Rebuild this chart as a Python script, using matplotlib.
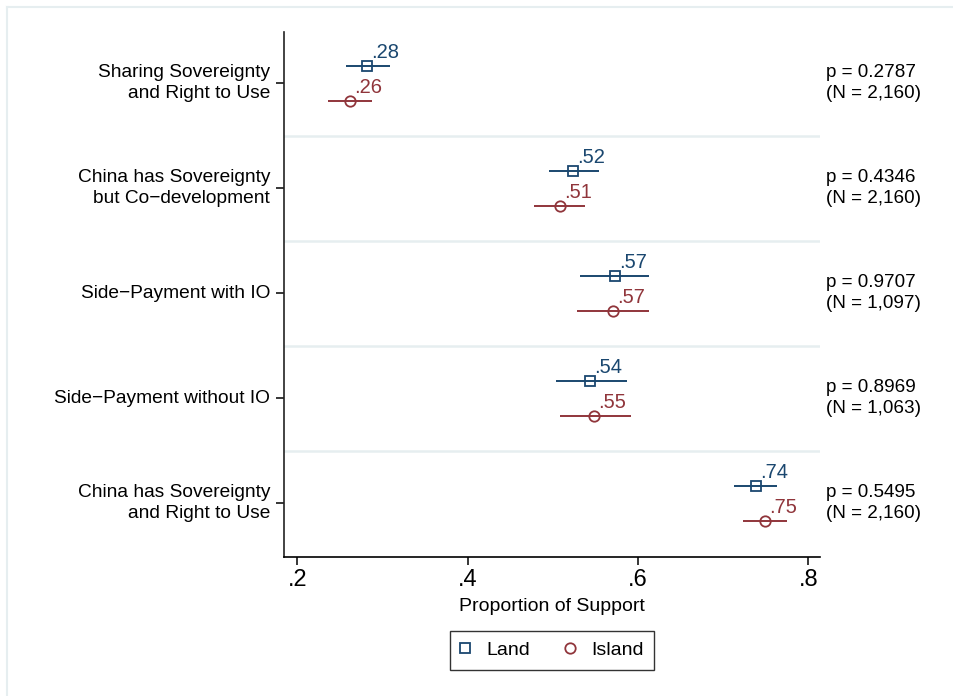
import numpy as np
import matplotlib
matplotlib.use("Agg")
import matplotlib.pyplot as plt
from matplotlib.lines import Line2D

plt.rcParams['font.family'] = ['Liberation Sans', 'DejaVu Sans']

# Policy options, top to bottom
options = [
    "Sharing Sovereignty\nand Right to Use",
    "China has Sovereignty\nbut Co\u2212development",
    "Side\u2212Payment with IO",
    "Side\u2212Payment without IO",
    "China has Sovereignty\nand Right to Use",
]

# Proportion of support with 95% intervals
land_mean = [0.282, 0.524, 0.573, 0.544, 0.738]
land_lo = [0.257, 0.496, 0.532, 0.504, 0.713]
land_hi = [0.309, 0.554, 0.613, 0.587, 0.763]

island_mean = [0.262, 0.508, 0.570, 0.548, 0.749]
island_lo = [0.236, 0.478, 0.528, 0.508, 0.723]
island_hi = [0.288, 0.538, 0.613, 0.592, 0.775]

p_values = ["0.2787", "0.4346", "0.9707", "0.8969", "0.5495"]
n_obs = ["2,160", "2,160", "1,097", "1,063", "2,160"]

x_ticks = [0.2, 0.4, 0.6, 0.8]
x_ticklabels = [".2", ".4", ".6", ".8"]

NAVY = "#1a476f"
MAROON = "#90353b"
GRID = "#e6eef0"

fig = plt.figure(figsize=(9.54, 6.96), dpi=100)
fig.patch.set_facecolor("white")

# light outer frame
fig.add_artist(Line2D([7 / 954, 7 / 954], [0, 1 - 7 / 696], color=GRID, lw=1.5))
fig.add_artist(Line2D([7 / 954, 1], [1 - 7 / 696, 1 - 7 / 696], color=GRID, lw=1.5))

ax = fig.add_axes([284 / 954, 1 - 557 / 696, (820 - 284) / 954, (557 - 32) / 696])

rows = np.arange(len(options))
y_land = rows - 0.16
y_island = rows + 0.175

for sep in rows[:-1] + 0.5:
    ax.axhline(sep, color=GRID, lw=1.8, zorder=0)

ax.hlines(y_land, land_lo, land_hi, color=NAVY, lw=1.4, zorder=2)
ax.hlines(y_island, island_lo, island_hi, color=MAROON, lw=1.4, zorder=2)
ax.plot(land_mean, y_land, ls="none", marker="s", ms=7.5, mfc="none",
        mec=NAVY, mew=1.3, zorder=3)
ax.plot(island_mean, y_island, ls="none", marker="o", ms=7.5, mfc="none",
        mec=MAROON, mew=1.3, zorder=3)

for x, y in zip(land_mean, y_land):
    ax.annotate(("%.2f" % x).lstrip("0"), (x, y), xytext=(3, 3),
                textcoords="offset points", ha="left", va="bottom",
                color=NAVY, fontsize=14.5)
for x, y in zip(island_mean, y_island):
    ax.annotate(("%.2f" % x).lstrip("0"), (x, y), xytext=(3, 3),
                textcoords="offset points", ha="left", va="bottom",
                color=MAROON, fontsize=14.5)

trans = ax.get_yaxis_transform()
for r, p, n in zip(rows, p_values, n_obs):
    ax.text(1.011, r, "p = %s\n(N = %s)" % (p, n), transform=trans,
            ha="left", va="center", fontsize=13.6, linespacing=1.35)

ax.set_xlim(0.1845, 0.8135)
ax.set_ylim(4.514, -0.486)
ax.set_xticks(x_ticks)
ax.set_xticklabels(x_ticklabels, fontsize=17)
ax.set_yticks(rows)
ax.set_yticklabels(options, fontsize=13.8, linespacing=1.32)
for lbl in ax.get_yticklabels():
    lbl.set_va("center")
ax.set_xlabel("Proportion of Support", fontsize=14, labelpad=5)

for side in ["top", "right"]:
    ax.spines[side].set_visible(False)
ax.spines["left"].set_color("#222222")
ax.spines["left"].set_linewidth(1.2)
ax.spines["bottom"].set_linewidth(1.2)
ax.tick_params(axis="x", length=6, width=1.1, pad=3)
ax.tick_params(axis="y", length=6, width=1.1, pad=4)

handles = [
    Line2D([], [], ls="none", marker="s", ms=7.5, mfc="none", mec=NAVY, mew=1.3),
    Line2D([], [], ls="none", marker="o", ms=7.5, mfc="none", mec=MAROON, mew=1.3),
]
leg = fig.legend(handles, ["Land", "Island"], loc="center",
                 bbox_to_anchor=(552 / 954, 1 - 650 / 696), ncol=2,
                 fontsize=14, frameon=True, fancybox=False, handlelength=0.5,
                 handletextpad=0.82, columnspacing=1.85, borderpad=0.55)
leg.get_frame().set_edgecolor("black")
leg.get_frame().set_linewidth(1.0)

fig.savefig("out.png", dpi=100, facecolor="white")
